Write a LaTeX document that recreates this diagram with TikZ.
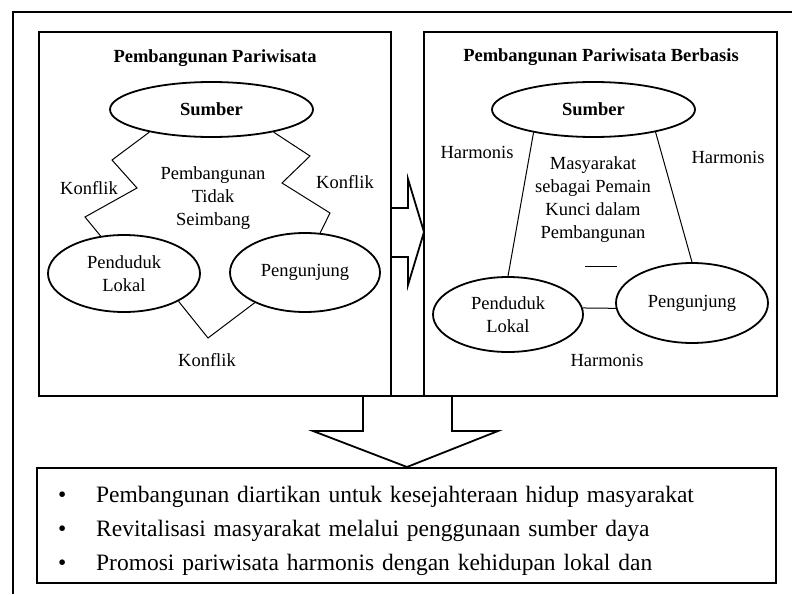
\documentclass[tikz,border=0pt]{standalone}
\usepackage{fontspec}
\setmainfont{Liberation Serif}
\usetikzlibrary{shapes.geometric}

\begin{document}
\begin{tikzpicture}[x=1pt, y=-1pt,
  cadre/.style={draw, line width=2pt, inner sep=0pt},
  bulle/.style={draw, ellipse, line width=1.8pt, inner sep=0pt, align=center,
    font=\fontsize{18.5}{22.5}\selectfont},
  lien/.style={line width=1pt},
  etiq/.style={inner sep=0pt, align=center, font=\fontsize{18.5}{23}\selectfont},
  titre/.style={inner sep=0pt, anchor=base, font=\bfseries\fontsize{18.5}{23}\selectfont}]
  \useasboundingbox (0,0) rectangle (792,594);
  % Cadre extérieur (coupé par la page)
  \draw[line width=2pt] (13,594) -- (13,12) -- (792,12);
  % Boîtes
  \node[cadre, minimum width=352pt, minimum height=364pt] (boiteG) at (215,214) {};
  \node[cadre, minimum width=353pt, minimum height=364pt] (boiteD) at (600.5,214) {};
  \node[cadre, minimum width=739pt, minimum height=115pt] (hasil) at (406.5,525.5) {};
  \node[titre] (titreG) at (215,63) {Pembangunan Pariwisata};
  \node[titre] (titreD) at (601,62) {Pembangunan Pariwisata Berbasis};
  % Pembangunan Pariwisata
  \node[bulle, minimum width=203pt, minimum height=55pt] (sumberG) at (211.5,109.5) {\textbf{Sumber}};
  \node[bulle, minimum width=152pt, minimum height=77pt] (pendudukG) at (124,273.5) {Penduduk\\Lokal};
  \node[bulle, minimum width=150pt, minimum height=79pt] (pengunjungG) at (305,272.5) {Pengunjung};
  \draw[lien] (sumberG.200) -- (112,160) -- (137,188) -- (85,217) -- (pendudukG.122);
  \draw[lien] (sumberG.340) -- (310,156) -- (282,183) -- (330,213) -- (pengunjungG.69);
  \draw[lien] (pendudukG.333) -- (208,338) -- (pengunjungG.211);
  \node[etiq] (konflikG) at (89,188) {Konflik};
  \node[etiq] (konflikD) at (345,182) {Konflik};
  \node[etiq] (konflikB) at (207,360) {Konflik};
  \node[etiq] (timpang) at (213,198) {Pembangunan\\Tidak\\Seimbang};
  % Pembangunan Pariwisata Berbasis
  \node[bulle, minimum width=203pt, minimum height=55pt] (sumberD) at (593.5,109.5) {\textbf{Sumber}};
  \node[bulle, minimum width=150pt, minimum height=75pt] (pendudukD) at (508,314.5) {Penduduk\\Lokal};
  \node[bulle, minimum width=152pt, minimum height=80pt] (pengunjungD) at (692,303) {Pengunjung};
  \draw[lien] (sumberD.201) -- (pendudukD.north);
  \draw[lien] (sumberD.340) -- (pengunjungD.north);
  \draw[lien] (pendudukD.5) -- (pengunjungD.184);
  \draw[lien] (585,266) -- (617,266);
  \node[etiq] (harmonisG) at (477,152) {Harmonis};
  \node[etiq] (harmonisD) at (728,157) {Harmonis};
  \node[etiq] (harmonisB) at (607,360) {Harmonis};
  \node[etiq] (pemain) at (593,200) {Masyarakat\\sebagai Pemain\\Kunci dalam\\Pembangunan};
  % Flèches
  \draw[line width=1.8pt] (392,208) -- (408,208) -- (408,179) -- (424,232)
    -- (408,285) -- (408,257) -- (392,257);
  \draw[line width=1.8pt] (363,396) -- (363,431) -- (313,431) -- (407,467)
    -- (498,431) -- (452,431) -- (452,396) -- cycle;
  % Conclusions
  \node[anchor=north west, inner sep=0pt, text width=690pt, align=left,
    font=\fontsize{23.5}{34}\selectfont] (butir) at ([xshift=22pt, yshift=-18.5pt]hasil.north west)
    {\makebox[38pt][l]{\textbullet}Pembangunan diartikan untuk kesejahteraan hidup masyarakat\\
     \makebox[38pt][l]{\textbullet}Revitalisasi masyarakat melalui penggunaan sumber daya\\
     \makebox[38pt][l]{\textbullet}Promosi pariwisata harmonis dengan kehidupan lokal dan};
\end{tikzpicture}
\end{document}
